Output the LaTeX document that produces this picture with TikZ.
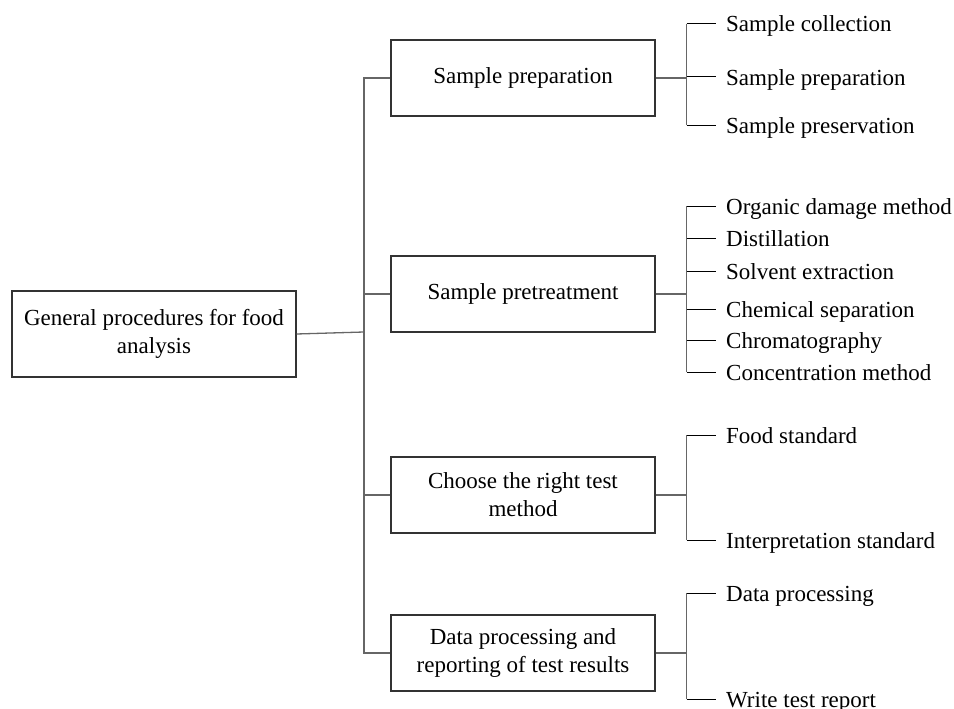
\documentclass[tikz,border=0pt]{standalone}
\usepackage{fontspec}
\setmainfont{Liberation Serif}
\usetikzlibrary{positioning}
\tikzset{box/.style={draw=black!80,line width=1.1pt,minimum width=264pt,minimum height=76pt,align=center,inner sep=0pt},
leaf/.style={anchor=west,inner sep=0pt,text height=19pt,text depth=3pt},
link/.style={draw=black!60,line width=1.3pt},
twig/.style={draw=black,line width=1pt}}

\begin{document}
\begin{tikzpicture}[x=1pt,y=-1pt,font=\fontsize{23}{28}\selectfont]
\useasboundingbox (0,0) rectangle (954,709);
\node[box,minimum width=284pt,minimum height=86pt] (root) at (154,334) {General procedures for food\\analysis};
\node[box] (prep) at (523,78) {Sample preparation};
\node[box] (pre) at (523,294) {Sample pretreatment};
\node[box] (meth) at (523,495) {Choose the right test\\method};
\node[box] (rep) at (523,653) {Data processing and\\reporting of test results};
\coordinate (trunk) at (364,332);
\draw[link] (root.east) -- (trunk);
\draw[link] (prep.west) -- (prep.west -| trunk) -- (rep.west -| trunk) -- (rep.west);
\draw[link] (pre.west) -- (pre.west -| trunk);
\draw[link] (meth.west) -- (meth.west -| trunk);
\foreach \t/\y [count=\i] in {Sample collection/24,Sample preparation/77,Sample preservation/125}
  \node[leaf] (a\i) at (726,\y) {\t};
\foreach \t/\y [count=\i] in {Organic damage method/206,Distillation/238,Solvent extraction/271,Chemical separation/309,Chromatography/340,Concentration method/372}
  \node[leaf] (b\i) at (726,\y) {\t};
\foreach \t/\y [count=\i] in {Food standard/435,Interpretation standard/540}
  \node[leaf] (c\i) at (726,\y) {\t};
\foreach \t/\y [count=\i] in {Data processing/593,Write test report/699}
  \node[leaf] (d\i) at (726,\y) {\t};
\draw[link] (prep.east) -- ++(31,0) coordinate (ja);
\draw[link] (pre.east) -- ++(31,0) coordinate (jb);
\draw[link] (meth.east) -- ++(31,0) coordinate (jc);
\draw[link] (rep.east) -- ++(31,0) coordinate (jd);
\draw[link] (ja |- a1) -- (ja |- a3);
\draw[link] (jb |- b1) -- (jb |- b6);
\draw[link] (jc |- c1) -- (jc |- c2);
\draw[link] (jd |- d1) -- (jd |- d2);
\foreach \n in {a1,a2,a3}
  \draw[twig] (ja |- \n.west) -- ([xshift=-10pt]\n.west);
\foreach \n in {b1,b2,b3,b4,b5,b6}
  \draw[twig] (jb |- \n.west) -- ([xshift=-10pt]\n.west);
\foreach \n in {c1,c2}
  \draw[twig] (jc |- \n.west) -- ([xshift=-10pt]\n.west);
\foreach \n in {d1,d2}
  \draw[twig] (jd |- \n.west) -- ([xshift=-10pt]\n.west);
\end{tikzpicture}
\end{document}
